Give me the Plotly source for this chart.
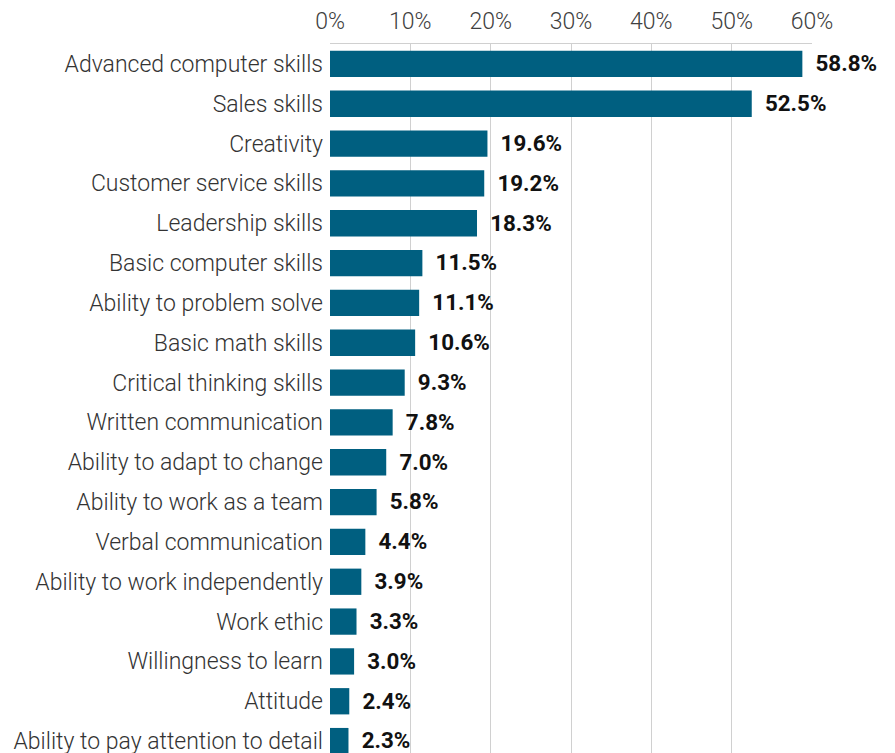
import plotly.graph_objects as go

categories = [
    "Advanced computer skills", "Sales skills", "Creativity", "Customer service skills",
    "Leadership skills", "Basic computer skills", "Ability to problem solve",
    "Basic math skills", "Critical thinking skills", "Written communication",
    "Ability to adapt to change", "Ability to work as a team", "Verbal communication",
    "Ability to work independently", "Work ethic", "Willingness to learn", "Attitude",
    "Ability to pay attention to detail",
]
values = [58.8, 52.5, 19.6, 19.2, 18.3, 11.5, 11.1, 10.6, 9.3, 7.8, 7.0, 5.8, 4.4, 3.9, 3.3, 3.0, 2.4, 2.3]
tick_vals = [0, 10, 20, 30, 40, 50, 60]
tick_text = [f"{v}%" for v in tick_vals]

fig = go.Figure(go.Bar(
    x=values, y=categories, orientation="h",
    marker=dict(color="#005f80", line=dict(width=0)),
    text=[f" \u2009{v:.1f}%" for v in values],
    textposition="outside", cliponaxis=False,
    textfont=dict(family="Roboto", size=23, color="#111111", weight="bold"),
    width=0.66,
))

fig.update_layout(
    width=895, height=753,
    margin=dict(l=322, r=91, t=36, b=0, autoexpand=False),
    paper_bgcolor="white", plot_bgcolor="white",
    showlegend=False,
    font=dict(family="Roboto", size=23, color="#333333"),
    xaxis=dict(
        side="top", range=[0, 60], tickvals=tick_vals, ticktext=tick_text,
        showgrid=True, gridcolor="#d0d0d0", gridwidth=1,
        zeroline=False, showline=True, linecolor="#d0d0d0", linewidth=1, mirror=False,
        tickfont=dict(family="Roboto", size=23, color="#404040", weight=300),
        ticks="", ticklabelstandoff=5,
    ),
    yaxis=dict(
        categoryorder="array", categoryarray=categories,
        range=[17.5, -0.5], showgrid=False, zeroline=False,
        tickfont=dict(family="Roboto", size=23, color="#333333", weight=300),
        ticks="", ticklabelstandoff=6,
    ),
)
fig.write_html("out.html")
